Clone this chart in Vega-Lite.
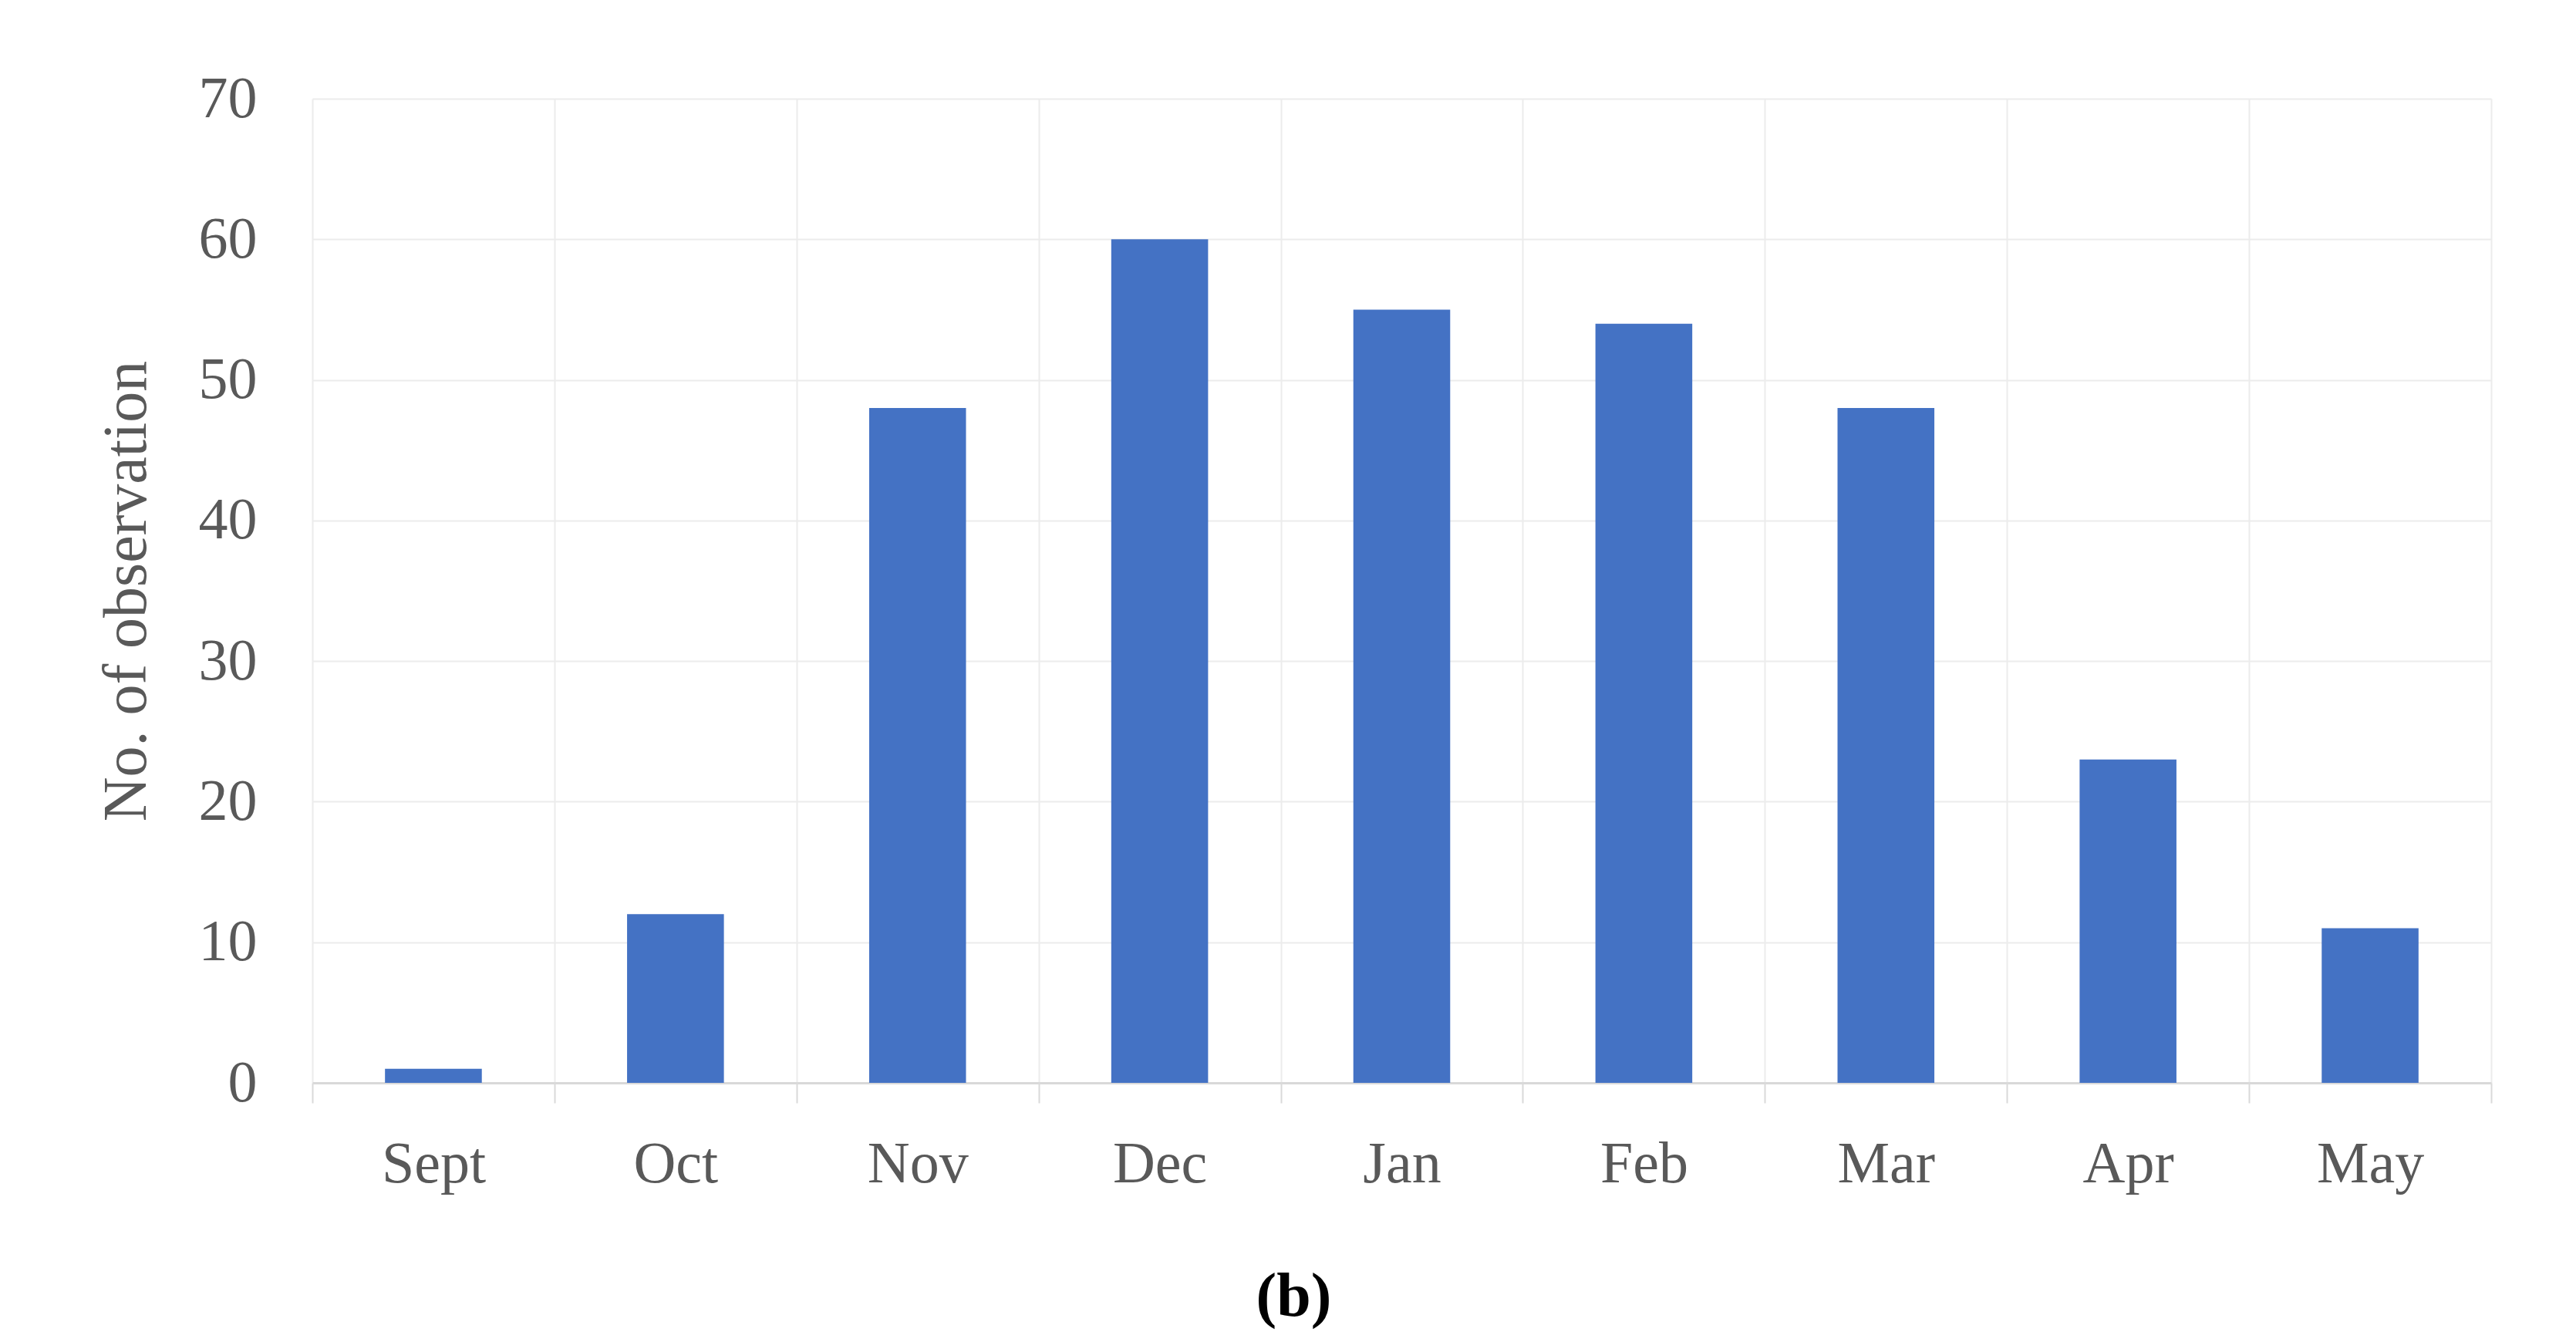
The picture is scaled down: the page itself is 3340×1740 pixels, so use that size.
{
  "$schema": "https://vega.github.io/schema/vega-lite/v6.json",
  "autosize": {"type": "none"},
  "padding": {"left": 405, "top": 128, "right": 110, "bottom": 336},
  "width": 2825,
  "height": 1276,
  "background": "white",
  "title": {
    "text": "(b)",
    "orient": "bottom",
    "anchor": "middle",
    "frame": "bounds",
    "offset": 96,
    "font": "Liberation Serif",
    "fontSize": 80,
    "fontWeight": "bold",
    "color": "#000000"
  },
  "data": {
    "values": [
      {"month": "Sept", "count": 1},
      {"month": "Oct", "count": 12},
      {"month": "Nov", "count": 48},
      {"month": "Dec", "count": 60},
      {"month": "Jan", "count": 55},
      {"month": "Feb", "count": 54},
      {"month": "Mar", "count": 48},
      {"month": "Apr", "count": 23},
      {"month": "May", "count": 11}
    ]
  },
  "mark": {"type": "bar", "color": "#4472C4", "width": {"band": 0.4}},
  "encoding": {
    "x": {
      "field": "month",
      "type": "nominal",
      "sort": null,
      "scale": {"paddingInner": 0, "paddingOuter": 0},
      "axis": {
        "title": null,
        "labelAngle": 0,
        "labelFont": "Liberation Serif",
        "labelFontSize": 76,
        "labelColor": "#595959",
        "labelPadding": 42,
        "tickBand": "extent",
        "ticks": true,
        "tickSize": 26,
        "tickColor": "#d9d9d9",
        "tickWidth": 2,
        "domainColor": "#d9d9d9",
        "domainWidth": 3,
        "grid": true,
        "gridColor": "#ececec",
        "gridWidth": 2
      }
    },
    "y": {
      "field": "count",
      "type": "quantitative",
      "scale": {"domain": [0, 70], "nice": false},
      "axis": {
        "title": "No. of observation",
        "titleFont": "Liberation Serif",
        "titleFontSize": 80,
        "titleFontWeight": "normal",
        "titleColor": "#595959",
        "titlePadding": 52,
        "values": [0, 10, 20, 30, 40, 50, 60, 70],
        "labelFont": "Liberation Serif",
        "labelFontSize": 76,
        "labelColor": "#595959",
        "labelPadding": 72,
        "ticks": false,
        "domain": false,
        "grid": true,
        "gridColor": "#ececec",
        "gridWidth": 2
      }
    }
  },
  "config": {
    "view": {"stroke": null}
  }
}
